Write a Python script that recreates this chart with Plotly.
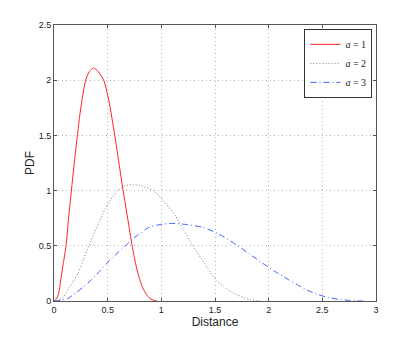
import plotly.graph_objects as go

# distances (x) and pdf values (y), one pair of lists per curve
dist_a1 = [0.000, 0.020, 0.044, 0.068, 0.090, 0.112, 0.137, 0.162, 0.190, 0.218,
           0.240, 0.261, 0.295, 0.330, 0.370, 0.410, 0.463, 0.510, 0.566, 0.605,
           0.644, 0.686, 0.728, 0.760, 0.790, 0.820, 0.852, 0.885, 0.914, 0.940, 0.960]
pdf_a1 = [0.000, 0.015, 0.072, 0.223, 0.360, 0.500, 0.760, 1.000, 1.260, 1.500,
          1.680, 1.820, 2.000, 2.080, 2.110, 2.080, 2.000, 1.820, 1.500, 1.250,
          1.000, 0.750, 0.500, 0.340, 0.223, 0.135, 0.072, 0.030, 0.012, 0.003, 0.000]

dist_a2 = [0.000, 0.040, 0.088, 0.136, 0.180, 0.224, 0.274, 0.324, 0.380, 0.436,
           0.480, 0.522, 0.590, 0.660, 0.740, 0.820, 0.926, 1.020, 1.132, 1.210,
           1.288, 1.372, 1.456, 1.520, 1.580, 1.640, 1.704, 1.770, 1.828, 1.880, 1.930]
pdf_a2 = [0.000, 0.008, 0.036, 0.112, 0.180, 0.250, 0.375, 0.500, 0.625, 0.750,
          0.840, 0.910, 1.000, 1.040, 1.055, 1.040, 1.000, 0.910, 0.770, 0.640,
          0.510, 0.385, 0.260, 0.180, 0.130, 0.090, 0.056, 0.030, 0.013, 0.004, 0.000]

dist_a3 = [0.000, 0.060, 0.132, 0.204, 0.270, 0.336, 0.411, 0.486, 0.570, 0.654,
           0.720, 0.783, 0.885, 0.990, 1.110, 1.230, 1.389, 1.530, 1.698, 1.815,
           1.932, 2.058, 2.184, 2.280, 2.370, 2.460, 2.556, 2.655, 2.742, 2.820, 2.880]
pdf_a3 = [0.000, 0.005, 0.024, 0.074, 0.125, 0.180, 0.255, 0.335, 0.415, 0.490,
          0.550, 0.600, 0.667, 0.693, 0.703, 0.693, 0.667, 0.610, 0.510, 0.430,
          0.350, 0.268, 0.194, 0.140, 0.093, 0.058, 0.032, 0.015, 0.006, 0.001, 0.000]

x_ticks = [0, 0.5, 1, 1.5, 2, 2.5, 3]
y_ticks = [0, 0.5, 1, 1.5, 2, 2.5]

fig = go.Figure()

fig.add_trace(go.Scatter(x=dist_a1, y=pdf_a1, mode='lines', name='<i>a</i> = 1',
                         line=dict(color='#ff2020', width=1, shape='spline', smoothing=0.6)))
fig.add_trace(go.Scatter(x=dist_a2, y=pdf_a2, mode='lines', name='<i>a</i> = 2',
                         line=dict(color='#808080', width=1, dash='1px,2px', shape='spline', smoothing=0.6)))
fig.add_trace(go.Scatter(x=dist_a3, y=pdf_a3, mode='lines', name='<i>a</i> = 3',
                         line=dict(color='#4060ff', width=1, dash='6px,3px,1px,3px', shape='spline', smoothing=0.6)))

axis_style = dict(showline=True, linecolor='#555555', linewidth=1, mirror='ticks',
                  ticks='inside', ticklen=3, tickcolor='#555555',
                  showgrid=True, gridcolor='#b4b4b4', griddash='1px,3px', gridwidth=1,
                  zeroline=False, automargin=False,
                  tickfont=dict(family='Liberation Sans', size=9, color='#222222'))

fig.update_xaxes(range=[0, 3], tickvals=x_ticks, ticktext=[str(t) for t in x_ticks],
                 title=dict(text='Distance', standoff=1,
                            font=dict(family='Liberation Sans', size=12, color='#222222')),
                 **axis_style)
fig.update_yaxes(range=[0, 2.5], tickvals=y_ticks, ticktext=[str(t) for t in y_ticks],
                 title=dict(text='PDF', standoff=1,
                            font=dict(family='Liberation Sans', size=12, color='#222222')),
                 **axis_style)

# the page adds an 8px body margin, so the margins are set 8px short
fig.update_layout(width=415, height=339,
                  margin=dict(l=46, r=47, t=17, b=46),
                  paper_bgcolor='white', plot_bgcolor='white',
                  showlegend=True,
                  legend=dict(x=0.989, y=0.986, xanchor='right', yanchor='top',
                              bgcolor='white', bordercolor='#333333', borderwidth=1,
                              font=dict(family='Liberation Serif', size=10, color='#222222'),
                              itemwidth=30, tracegroupgap=0))

fig.write_html("out.html")
